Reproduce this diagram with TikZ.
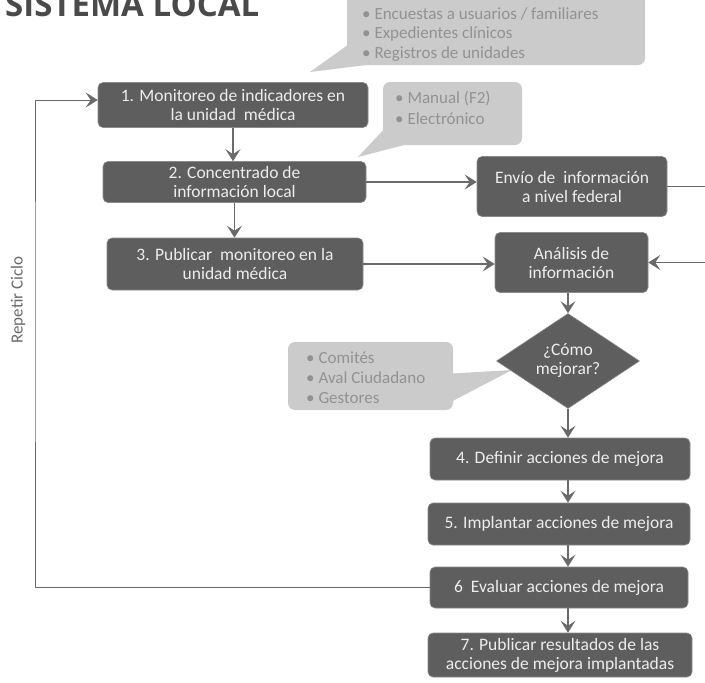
\documentclass[tikz,border=0pt]{standalone}
\usepackage{fontspec}
\usepackage{graphicx}
\setmainfont{Carlito}
\newfontfamily\titlefont{Open Sans}
\usetikzlibrary{arrows.meta,shapes.geometric}
\definecolor{boxfill}{HTML}{5E5E5E}
\definecolor{boxline}{HTML}{8A8A8A}
\definecolor{boxtext}{HTML}{EDEDED}
\definecolor{callfill}{HTML}{CBCBCB}
\definecolor{calltext}{HTML}{929292}
\definecolor{arrcol}{HTML}{6A6A6A}
\definecolor{titlecol}{HTML}{4A4A4A}
\tikzset{
  procbox/.style={draw=boxline, line width=0.6pt, fill=boxfill, rounded corners=5pt,
    text=boxtext, font=\fontsize{17.5}{19}\selectfont, align=center, inner sep=0pt},
  decbox/.style={diamond, draw=boxline, line width=0.6pt, fill=boxfill, text=boxtext,
    font=\fontsize{17.5}{19}\selectfont, align=center, inner sep=0pt, aspect=1.5},
  callbox/.style={fill=callfill, rounded corners=7pt, draw=none},
  calltxt/.style={text=calltext, font=\fontsize{17}{19}\selectfont, anchor=west, inner sep=0pt},
  arr/.style={draw=arrcol, line width=1.2pt, -{Stealth[length=12pt,width=15pt,inset=5pt]}},
}
\begin{document}
\begin{tikzpicture}[x=1pt,y=-1pt]
\useasboundingbox (0,0) rectangle (705,683);
\fill[white] (0,0) rectangle (705,683);
\clip (0,0) rectangle (705,683);

% title
\node[anchor=base west, inner sep=0pt, text=titlecol] (title) at (5,16)
  {\resizebox{254pt}{!}{\titlefont\bfseries SISTEMA LOCAL}};

% callouts
\fill[callfill] (310,72) -- (352,42) -- (374,64) -- cycle;
\node[callbox, minimum width=298pt, minimum height=88pt] (c1) at (496,21) {};
\node[calltxt] (c1a) at (362,14) {• Encuestas a usuarios / familiares};
\node[calltxt] (c1b) at (362,34) {• Expedientes clínicos};
\node[calltxt] (c1c) at (362,54) {• Registros de unidades};

\fill[callfill] (358,157) -- (388,125) -- (408,144) -- cycle;
\node[callbox, minimum width=139pt, minimum height=63pt] (c2) at (452.5,113.5) {};
\node[calltxt] (c2a) at (395,98) {• Manual (F2)};
\node[calltxt] (c2b) at (395,119) {• Electrónico};

\fill[callfill] (445,374) -- (512,370) -- (445,405) -- cycle;
\node[callbox, minimum width=165pt, minimum height=68pt] (c3) at (370.5,376) {};
\node[calltxt] (c3a) at (306,358) {• Comités};
\node[calltxt] (c3b) at (306,378) {• Aval Ciudadano};
\node[calltxt] (c3c) at (306,398) {• Gestores};

% process boxes
\node[procbox, minimum width=270pt, minimum height=45pt] (b1) at (233,105)
  {1. Monitoreo de indicadores en\\la unidad\ \ médica};
\node[procbox, minimum width=263pt, minimum height=41pt] (b2) at (234.5,182)
  {2. Concentrado de\\información local};
\node[procbox, minimum width=256pt, minimum height=52pt] (b3) at (235,264)
  {3. Publicar\ \ monitoreo en la\\unidad médica};
\node[procbox, minimum width=190pt, minimum height=60pt] (envio) at (572,186.5)
  {Envío de\ \ información\\a nivel federal};
\node[procbox, minimum width=153pt, minimum height=60pt] (anal) at (571.5,262.5)
  {Análisis de\\información};
\node[decbox, minimum width=143pt, minimum height=95pt] (dec) at (568,361)
  {¿Cómo\\mejorar?};
\node[procbox, minimum width=260pt, minimum height=42pt] (b4) at (560,459)
  {4. Definir acciones de mejora};
\node[procbox, minimum width=262pt, minimum height=42pt] (b5) at (559,524)
  {5. Implantar acciones de mejora};
\node[procbox, minimum width=258pt, minimum height=41pt] (b6) at (559,587.5)
  {6\ \ Evaluar acciones de mejora};
\node[procbox, minimum width=264pt, minimum height=44pt] (b7) at (560,655)
  {7. Publicar resultados de las\\acciones de mejora implantadas};

% label
\node[rotate=90, text=arrcol, font=\fontsize{17}{19}\selectfont, inner sep=0pt] (rep) at (18,300) {Repetir Ciclo};

% connectors
\draw[arr] (b1.south) -- (b1.south |- b2.north);
\draw[arr] (b2.south) -- (b2.south |- b3.north);
\draw[arr] (b2.east) -- (b2.east -| envio.west);
\draw[arr] (b3.east) -- (b3.east -| anal.west);
\draw[arr] (envio.east) -- ++(60,0) |- (anal.east);
\draw[arr] (anal.south -| dec.north) -- (dec.north);
\draw[arr] (dec.south) -- (dec.south |- b4.north);
\draw[arr] (dec.south |- b4.south) -- (dec.south |- b5.north);
\draw[arr] (dec.south |- b5.south) -- (dec.south |- b6.north);
\draw[arr] (dec.south |- b6.south) -- (dec.south |- b7.north);
\coordinate (lp) at (35,300);
\draw[arr, line width=0.8pt] (b6.west) -| (lp) |- ([yshift=5pt]b1.west);
\end{tikzpicture}
\end{document}
